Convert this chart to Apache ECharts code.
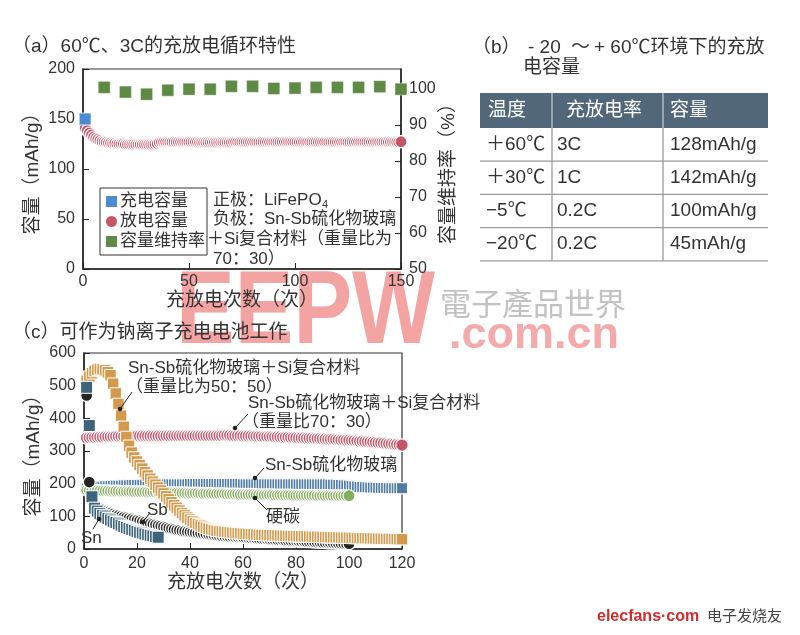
<!DOCTYPE html>
<html><head><meta charset="utf-8">
<script src="https://cdn.jsdelivr.net/npm/echarts@6/dist/echarts.min.js"></script>
<style>html,body{margin:0;padding:0;background:#fff}#c{width:800px;height:635px}</style>
</head><body><div id="c"></div>
<script>
const FONT = '"Liberation Sans","Noto Sans CJK SC",sans-serif';

// ---------- (a) 60℃、3C cycle data ----------
const aChargeCycles = [1];
const aCharge = [150];
const aDischarge = [
 141,138.5,136,134,132,130.5,129.5,128.5,127.5,127,
 126.5,126,126,125.5,125.5,125,125,125,125,124.5,
 124.5,124.5,124.5,124.5,124.5,124.5,124.5,124.5,124.5,124.5,
 124.5,124.5,124.5,125,125.5,126.5,127,127,127,127,
 127,127,127,127,127,127,127,127,127,127,
 127,127,127,127,126.8,126.8,126.8,126.8,126.8,126.8,
 126.8,126.8,126.8,126.8,126.8,126.8,126.8,126.8,126.8,126.8,
 127,127,127,127,127,127,127,127,127,127,
 127,127,127,127,127,127,127,127,127,127,
 127,127,127,127,127,127,127,127,127,127,
 127,127,127,127,127,127,127,127,127,127,
 127,127,127,127,127,127,127,127,127,127,
 127,127,127,127,127,127,127,127,127,127,
 127,127,127,127,127,127,127,127,127,127,
 127,127,127,127,127,127,127,127,127,127.3
];
const aRetentionCycles = [10,20,30,40,50,60,70,80,90,100,110,120,130,140,150];
const aRetention = [100.4,99.1,98.5,99.6,99.9,99.9,100.7,100.7,100.1,100.2,100.4,100.4,100.4,100.6,99.9];

// ---------- (b) table ----------
const tableHeader = ['温度','充放电率','容量'];
const tableTemp = ['＋60℃','＋30℃','−5℃','−20℃'];
const tableRate = ['3C','1C','0.2C','0.2C'];
const tableCap = ['128mAh/g','142mAh/g','100mAh/g','45mAh/g'];

// ---------- (c) sodium-ion cycle data ----------
const cSnSbSi5050 = [
 515,528,538,545,549,551,550,547,541,532,
 506,476,444,408,374,343,316,295,280,268,
 257,246,235,225,215,206,197,188,179,170,
 161,152,143,134,126,118,110,103,96,90,
 85,80,76,72,68,65,62,60,58,56,
 55,54,53,52,51,50,49,48.5,48,47,
 46.5,46,45.5,45,44.5,44,43.5,43,43,42.5,
 42,42,41.5,41,41,40.5,40,40,39.5,39.5,
 39,39,38.5,38.5,38,38,37.5,37.5,37,37,
 36.5,36.5,36,36,35.5,35.5,35,35,34.5,34.5,
 34,34,33.5,33.5,33,33,33,32.5,32.5,32,
 32,31.5,31.5,31,31,31,30.5,30.5,30,30
];
const cSnSbSi7030 = [
 340,341,342,342,343,343,343,344,344,344,
 344,345,345,345,345,345,346,346,346,346,
 346,346,346,346,346,346,346,346,346,346,
 347,347,347,347,347,347,347,347,347,347,
 347,347,347,347,347,347,347,347,347,347,
 347,347,348,348,348,347,347,347,347,346,
 346,346,346,345,345,345,345,344,344,344,
 344,343,343,343,342,342,342,341,341,341,
 340,340,340,339,339,339,338,338,338,337,
 337,336,336,336,335,335,334,334,333,333,
 332,332,331,330,330,329,328,328,327,326,
 325,325,324,323,322,322,321,320,319,318
];
const cSnSbGlass = [
 185,187,188,189,190,191,191,192,192,193,
 193,194,194,194,195,195,195,196,196,196,
 196,197,197,197,197,198,198,198,198,198,
 198,198,198,198,198,198,198,198,198,199,
 199,199,199,199,199,199,199,199,199,199,
 199,199,199,199,199,199,199,199,199,198,
 198,198,198,198,198,198,198,198,198,198,
 198,198,198,198,198,198,198,198,198,198,
 198,198,198,198,198,198,198,198,198,198,
 198,198,197,197,197,196,196,195,195,194,
 193,192,191,190,190,189,189,188,188,188,
 187,187,187,187,186,186,186,186,186,186
];
const cHardCarbon = [
 180,180,179,179,179,178,178,178,178,177,
 177,177,177,176,176,176,176,176,175,175,
 175,175,175,174,174,174,174,174,173,173,
 173,173,173,172,172,172,172,172,171,171,
 171,171,171,170,170,170,170,170,169,169,
 169,169,169,168,168,168,168,168,167,167,
 167,167,167,167,166,166,166,166,166,166,
 166,165,165,165,165,165,165,165,164,164,
 164,164,164,164,164,164,164,163,163,163,
 163,163,163,163,163,163,163,163,163,163
];
const cSb = [
 470,205,150,136,129,124,120,116,113,110,
 107,104,102,100,98,96,94,92,90,88,
 86,84,82,80,78,76,74,72,70,68,
 66,64,62,60,58,57,55,54,53,52,
 51,50,49,48,47,46,45,44,43,42,
 41,40,39.5,39,38.5,38,37.5,37,36.5,36,
 35,34.5,34,33.5,33,32,31.5,31,30.5,30,
 29.5,29,28.5,28,27.5,27,26.5,26,25.5,25,
 24.5,24,23.5,23,22.5,22,21.5,21,20.5,20,
 19.5,19,18.5,18.5,18,17.5,17,17,16.5,16
];
const cSn = [
 495,378,160,125,116,109,103,98,93,89,
 85,81,77,73,69,66,63,60,57,54,
 51,49,46,44,42,40,38,36
];

const toXY = (arr, start) => arr.map((v, i) => [start + i, v]);

const C = {
  aBlue:'#4a8bd1', aGreen:'#5e8a45', pink:'#c85468',
  orange:'#d39a4e', slate:'#3d6479', snsb:'#4f7ba6', hc:'#84ad5c', sb:'#252525',
  txt:'#333', axis:'#222', head:'#52687a'
};

function axisCommon(extra) {
  return Object.assign({
    type:'value',
    axisLine:{show:true, lineStyle:{color:C.axis, width:1.5}},
    axisTick:{show:true, inside:true, length:6, lineStyle:{color:C.axis, width:1}},
    axisLabel:{fontSize:16, color:C.txt, fontFamily:FONT},
    splitLine:{show:false},
    nameLocation:'middle',
    nameTextStyle:{fontSize:19, color:C.txt, fontFamily:FONT}
  }, extra);
}

function T(text, x, y, size, extra) {
  return {type:'text', z:100, silent:true, style:Object.assign({
    text, x, y, fontSize:size, fontFamily:FONT, fill:C.txt,
    align:'left', verticalAlign:'middle', textAlign:'left', textVerticalAlign:'middle'
  }, extra || {})};
}
function L(x1,y1,x2,y2,color,w){return {type:'line', z:100, silent:true, shape:{x1,y1,x2,y2}, style:{stroke:color||'#222', lineWidth:w||1}};}
function D(cx,cy){return {type:'circle', z:101, silent:true, shape:{cx,cy,r:2.3}, style:{fill:'#222'}};}

const graphics = [];
// watermark
graphics.push({type:'text', z:-10, silent:true, scaleY:1.17, originX:176, originY:315,
  style:{text:'EEPW', x:176, y:315, fontSize:88, fontWeight:'bold', fontFamily:'"Liberation Sans",sans-serif',
  fill:'#f4a3a3', align:'left', verticalAlign:'middle', textAlign:'left', textVerticalAlign:'middle'}});
graphics.push(Object.assign(T('電子產品世界', 440, 303, 31, {fill:'#c2c2c2', fontFamily:'"Noto Sans CJK TC",sans-serif'}), {z:-10}));
graphics.push(Object.assign(T('.com.cn', 449, 336, 45, {fill:'#f4aaaa', fontWeight:'bold', fontFamily:'"Liberation Sans",sans-serif'}), {z:-10}));

// titles
graphics.push(T('（a）60℃、3C的充放电循环特性', 12, 47, 19));
graphics.push(T('（c）可作为钠离子充电电池工作', 12, 333, 19));
graphics.push(T('（b）', 472, 48, 19));
graphics.push(T('- 20', 528, 48, 19));
graphics.push(T('～', 571, 48, 19));
graphics.push(T('+ 60℃环境下的充放', 594, 48, 19));
graphics.push(T('电容量', 523, 68, 19));

// (a) annotation
graphics.push(T('正极：LiFePO', 213, 200, 17));
graphics.push(T('4', 322, 205, 11));
graphics.push(T('负极：Sn-Sb硫化物玻璃', 213, 219.5, 17));
graphics.push(T('＋Si复合材料（重量比为', 207, 239.5, 17));
graphics.push(T('70：30）', 213, 259, 17));

// (b) table
const tX = 480, tW = 288, colX = [480, 552, 663], hY = 93, hH = 35, rH = 33.2;
graphics.push({type:'rect', z:90, silent:true, shape:{x:tX, y:hY, width:tW, height:hH}, style:{fill:C.head}});
tableHeader.forEach((h, i) => graphics.push(T(h, [488, 566, 670][i], hY + hH/2, 19, {fill:'#fff'})));
for (let r = 0; r < 4; r++) {
  const yc = hY + hH + rH * r + rH / 2;
  graphics.push(T(tableTemp[r], 486, yc, 19));
  graphics.push(T(tableRate[r], 557, yc, 19));
  graphics.push(T(tableCap[r], 670, yc, 19));
  const yl = hY + hH + rH * (r + 1);
  graphics.push(L(tX, yl, tX + tW, yl, '#9a9a9a', 1.3));
}
graphics.push(L(colX[1], hY, colX[1], hY + hH, '#dfe4e8', 1));
graphics.push(L(colX[2], hY, colX[2], hY + hH, '#dfe4e8', 1));
graphics.push(L(colX[1], hY + hH, colX[1], hY + hH + 4 * rH, '#9a9a9a', 1.3));
graphics.push(L(colX[2], hY + hH, colX[2], hY + hH + 4 * rH, '#9a9a9a', 1.3));

// (c) annotations
graphics.push(T('Sn-Sb硫化物玻璃＋Si复合材料', 128, 368, 17));
graphics.push(T('（重量比为50：50）', 126, 387, 17));
graphics.push(L(120, 409, 132, 392)); graphics.push(D(120, 409));
graphics.push(T('Sn-Sb硫化物玻璃＋Si复合材料', 248, 403, 17));
graphics.push(T('（重量比70：30）', 242, 422, 17));
graphics.push(L(235, 428, 248, 414)); graphics.push(D(235, 428));
graphics.push(T('Sn-Sb硫化物玻璃', 265, 465, 17));
graphics.push(L(255, 478, 264, 468)); graphics.push(D(255, 478));
graphics.push(T('硬碳', 266, 517, 17));
graphics.push(L(255, 498, 267, 510)); graphics.push(D(255, 498));
graphics.push(T('Sb', 147, 510, 17));
graphics.push(L(143, 522, 149, 514)); graphics.push(D(143, 522));
graphics.push(T('Sn', 81, 538, 17));
graphics.push(L(99, 519, 93, 529)); graphics.push(D(99, 519));

// logo
graphics.push(T('elecfans·com', 597, 617, 16, {fill:'#d42a2a', fontWeight:'bold', fontFamily:'"Liberation Sans",sans-serif'}));
graphics.push(T('电子发烧友', 707, 617, 15, {fill:'#444'}));

const chart = echarts.init(document.getElementById('c'), null, {renderer:'canvas', width:800, height:635});
const scat = (name, xi, yi, sym, size, color, data, z, bw) => ({
  name, type:'scatter', xAxisIndex:xi, yAxisIndex:yi, symbol:sym, symbolSize:size, data, z, clip:false, silent:true,
  itemStyle:{color, borderColor:'#fff', borderWidth: bw === undefined ? 0.8 : bw, opacity:1}
});

chart.setOption({
  animation:false,
  textStyle:{fontFamily:FONT},
  grid:[
    {left:83, top:69, width:318, height:200, show:true, borderColor:'#333', borderWidth:1.2},
    {left:84, top:353, width:318, height:196, show:true, borderColor:'#333', borderWidth:1.2}
  ],
  legend:{
    data:[{name:'充电容量', icon:'rect'}, {name:'放电容量', icon:'circle'}, {name:'容量维持率', icon:'rect'}],
    left:100, top:188, orient:'vertical', itemGap:1, itemWidth:11, itemHeight:11,
    padding:[4,2,4,6], borderColor:'#333', borderWidth:1, backgroundColor:'#fff',
    itemStyle:{borderWidth:0},
    textStyle:{fontSize:17, color:C.txt, fontFamily:FONT, padding:[0,0,0,-2], lineHeight:19},
    selectedMode:false
  },
  xAxis:[
    axisCommon({gridIndex:0, min:0, max:150, interval:50, name:'充放电次数（次）', nameGap:19,
      axisLabel:{fontSize:16, color:C.txt, fontFamily:FONT, margin:5}}),
    axisCommon({gridIndex:1, min:0, max:120, interval:20, name:'充放电次数（次）', nameGap:20,
      axisLabel:{fontSize:16, color:C.txt, fontFamily:FONT, margin:7}})
  ],
  yAxis:[
    axisCommon({gridIndex:0, min:0, max:200, interval:50, position:'left', name:'容量（mAh/g）', nameRotate:90, nameGap:41,
      axisLabel:{fontSize:16, color:C.txt, fontFamily:FONT, margin:8}}),
    axisCommon({gridIndex:0, min:50, max:105.5, interval:10, position:'right', name:'容量维持率（%）', nameRotate:90, nameGap:35,
      axisLabel:{fontSize:16, color:C.txt, fontFamily:FONT, margin:8, showMaxLabel:false}}),
    axisCommon({gridIndex:1, min:0, max:600, interval:100, position:'left', name:'容量（mAh/g）', nameRotate:90, nameGap:41,
      axisLabel:{fontSize:16, color:C.txt, fontFamily:FONT, margin:8}})
  ],
  series:[
    scat('放电容量', 0, 0, 'circle', 12, C.pink, toXY(aDischarge, 1), 3, 1.2),
    scat('充电容量', 0, 0, 'rect', 12, C.aBlue, aCharge.map((v,i)=>[aChargeCycles[i], v]), 4),
    scat('容量维持率', 0, 1, 'rect', 12, C.aGreen, aRetention.map((v,i)=>[aRetentionCycles[i], v]), 4, 0.4),
    scat('Sn-Sb+Si 70:30', 1, 2, 'circle', 12.5, C.pink, toXY(cSnSbSi7030, 1), 3, 1.2),
    scat('Sn-Sb硫化物玻璃', 1, 2, 'rect', 11, C.snsb, toXY(cSnSbGlass, 1), 3, 1),
    scat('硬碳', 1, 2, 'circle', 12, C.hc, toXY(cHardCarbon, 1), 4, 1.2),
    scat('Sb', 1, 2, 'circle', 12, C.sb, toXY(cSb, 1), 5, 1.3),
    scat('Sn-Sb+Si 50:50', 1, 2, 'rect', 11.5, C.orange, toXY(cSnSbSi5050, 1), 6, 1),
    scat('Sn', 1, 2, 'rect', 12, C.slate, toXY(cSn, 1), 7, 1)
  ],
  graphic:{elements:graphics}
});
</script></body></html>
